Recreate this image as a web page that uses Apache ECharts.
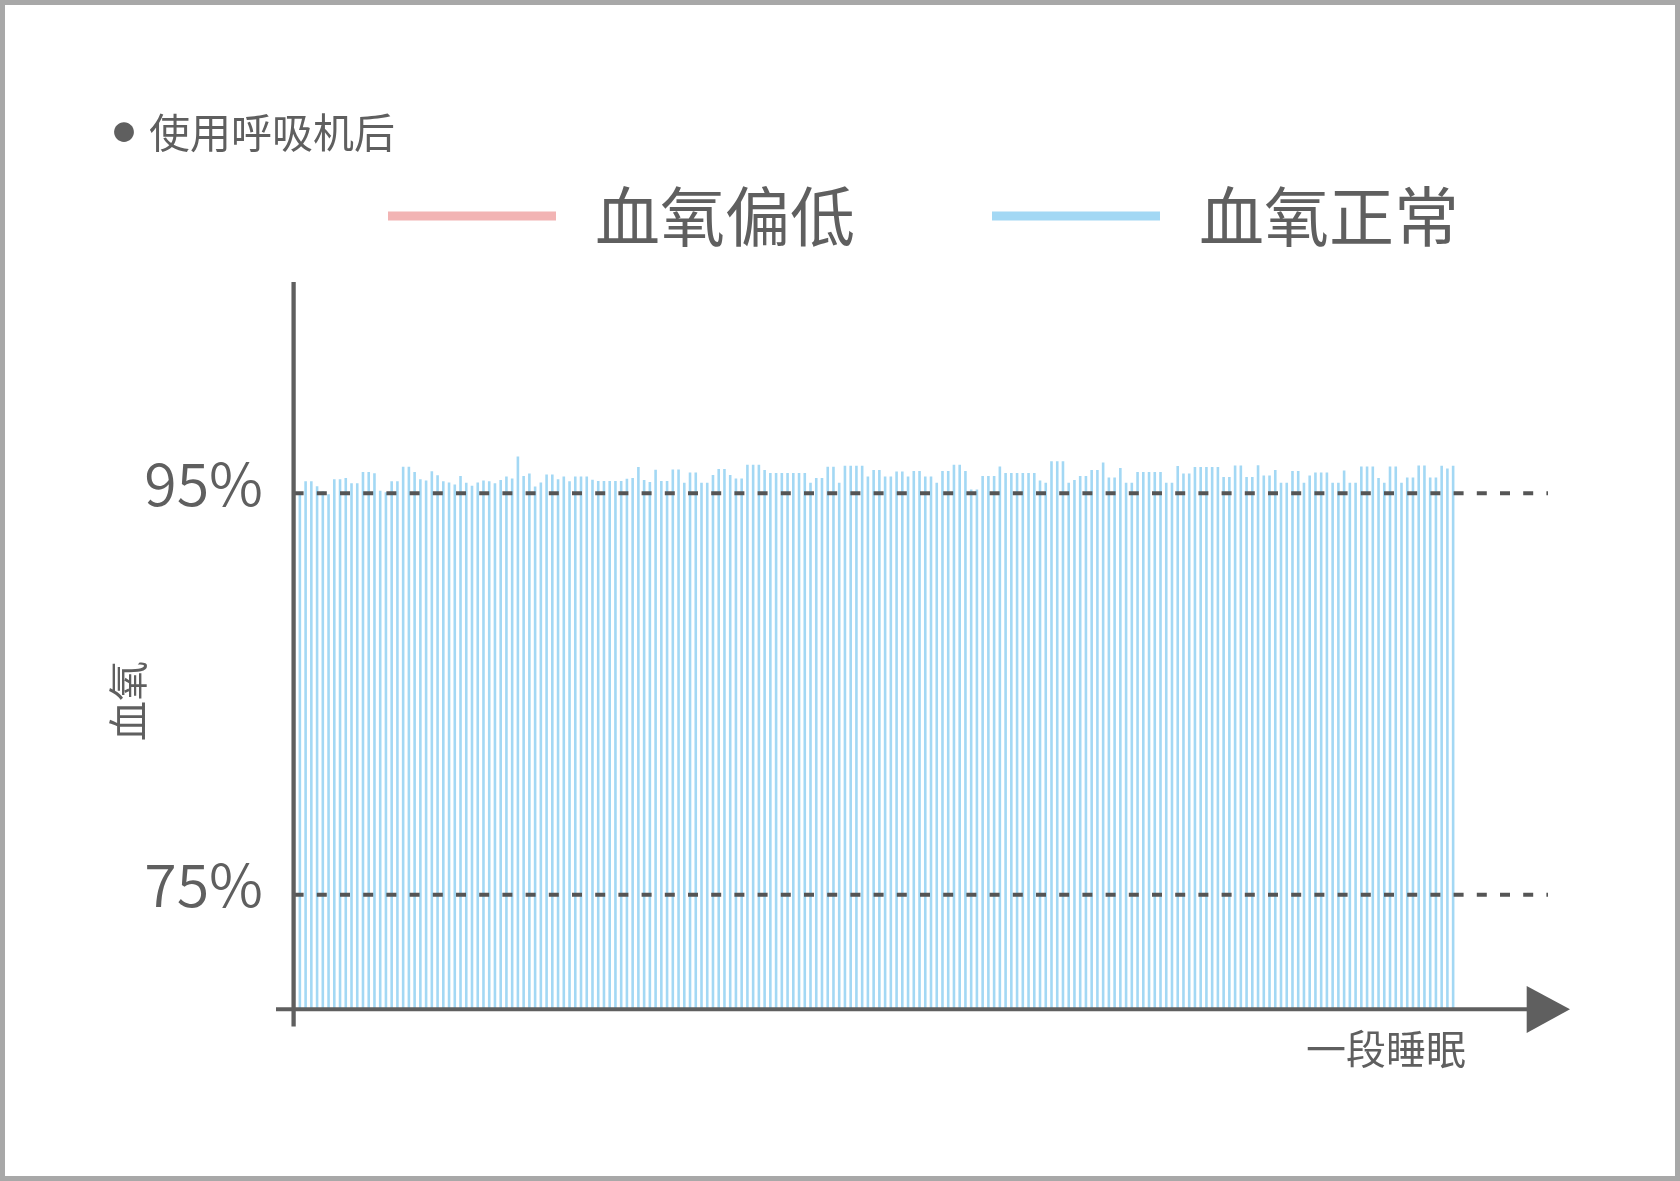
<!DOCTYPE html>
<html>
<head>
<meta charset="utf-8">
<script src="https://cdn.jsdelivr.net/npm/echarts@6/dist/echarts.min.js"></script>
<style>
html,body{margin:0;padding:0;background:#fff;}
#c{width:1680px;height:1181px;}
</style>
</head>
<body>
<div id="c"></div>
<script>
// ---------- data ----------
const categories = Array.from({ length: 202 }, (_, i) => String(i + 1));
const normalValues = [
  95.0, 95.6, 95.6, 95.35, 95.1, 94.95, 95.7, 95.7, 95.77, 95.5,
  95.5, 96.06, 96.06, 96.0, 95.13, 95.05, 95.6, 95.6, 96.32, 96.32,
  96.06, 95.7, 95.64, 96.1, 95.9, 95.6, 95.54, 95.44, 95.86, 95.53,
  95.38, 95.54, 95.64, 95.6, 95.5, 95.66, 95.84, 95.74, 96.84, 95.86,
  95.99, 95.34, 95.54, 95.94, 95.94, 95.7, 95.84, 95.6, 95.84, 95.84,
  95.84, 95.68, 95.61, 95.61, 95.61, 95.61, 95.61, 95.73, 95.76, 96.31,
  95.66, 95.56, 96.17, 95.61, 95.61, 96.19, 96.19, 95.53, 96.04, 96.04,
  95.53, 95.53, 95.91, 96.21, 96.21, 95.91, 95.74, 95.74, 96.42, 96.42,
  96.42, 96.16, 96.01, 96.01, 96.01, 96.01, 96.01, 96.01, 96.01, 95.53,
  95.76, 95.76, 96.32, 96.32, 95.53, 96.37, 96.37, 96.37, 96.37, 95.84,
  96.16, 96.16, 95.84, 95.84, 96.09, 96.09, 95.84, 96.11, 96.11, 95.84,
  95.84, 95.53, 96.11, 96.11, 96.42, 96.42, 96.11, 95.19, 95.19, 95.86,
  95.86, 95.86, 96.34, 96.01, 96.01, 96.01, 96.01, 96.01, 96.01, 95.64,
  95.53, 96.6, 96.6, 96.6, 95.53, 95.66, 95.87, 95.87, 96.16, 96.16,
  96.54, 95.79, 95.79, 96.26, 95.53, 95.53, 96.06, 96.06, 96.06, 96.06,
  96.06, 95.53, 95.53, 96.36, 95.99, 95.99, 96.31, 96.31, 96.31, 96.31,
  96.31, 95.81, 95.81, 96.39, 96.39, 95.81, 95.81, 96.4, 95.89, 95.89,
  96.16, 95.53, 95.53, 96.11, 96.11, 95.53, 95.89, 96.04, 96.04, 96.04,
  95.53, 95.53, 96.14, 95.53, 95.53, 96.34, 96.34, 96.34, 95.77, 95.53,
  96.34, 96.34, 95.53, 95.79, 95.79, 96.39, 96.39, 95.79, 95.79, 96.37,
  96.24, 96.37
];
const lowValues = [];
const yTickValues = [75, 95];
const guideValues = [95, 75];
const seriesNames = ['血氧偏低', '血氧正常'];
const titleText = '使用呼吸机后';
const xAxisName = '一段睡眠';
const yAxisName = '血氧';

// ---------- style ----------
const FONT = '"Noto Sans CJK SC", "Noto Sans", sans-serif';
const TEXT = '#5f5f5f';
const AXIS = '#5f5f5f';
const BLUE = '#a3d8f4';
const PINK = '#f2b4b4';
const GRID = { left: 297, right: 224, top: 393, bottom: 172 };

const chart = echarts.init(document.getElementById('c'), null, { renderer: 'canvas' });

const option = {
  backgroundColor: '#ffffff',
  animation: false,
  title: {
    text: '{dot|●}{t|' + titleText + '}',
    left: 113, top: 107, padding: 0,
    textStyle: {
      fontWeight: 'normal',
      rich: {
        dot: { fontSize: 22, color: TEXT, fontFamily: FONT, fontWeight: 'normal', lineHeight: 50, padding: [0, 14, 0, 0] },
        t: { fontSize: 41, color: TEXT, fontFamily: FONT, fontWeight: 'normal', lineHeight: 50 }
      }
    }
  },
  legend: {
    left: 388, top: 181, padding: 0,
    itemWidth: 168, itemHeight: 9, itemGap: 137,
    icon: 'rect',
    data: seriesNames,
    textStyle: { fontSize: 65, color: TEXT, fontFamily: FONT, lineHeight: 70, padding: [0, 0, 0, 34] }
  },
  grid: GRID,
  xAxis: {
    type: 'category',
    data: categories,
    boundaryGap: true,
    axisLine: { show: false },
    axisTick: { show: false },
    axisLabel: { show: false },
    splitLine: { show: false },
    name: xAxisName,
    nameLocation: 'end',
    nameGap: 10,
    nameMoveOverlap: false,
    nameTextStyle: { fontSize: 40, color: TEXT, fontFamily: FONT, align: 'right', verticalAlign: 'top', lineHeight: 40, padding: [20, 0, 0, 0] }
  },
  yAxis: {
    type: 'value',
    min: 69.31, max: 100,
    axisLine: { show: false },
    axisTick: { show: false },
    splitLine: { show: false },
    axisLabel: {
      customValues: yTickValues,
      formatter: '{n|{value}%}',
      margin: 34,
      rich: {
        n: { fontSize: 59, color: TEXT, fontFamily: FONT, fontWeight: 350, lineHeight: 64, padding: [0, 0, 20, 0] }
      }
    },
    name: yAxisName,
    nameLocation: 'middle',
    nameRotate: 90,
    nameGap: 149,
    nameMoveOverlap: false,
    nameTextStyle: { fontSize: 40, color: TEXT, fontFamily: FONT }
  },
  series: [
    {
      name: seriesNames[0], type: 'line', data: lowValues,
      itemStyle: { color: PINK }, lineStyle: { color: PINK }, showSymbol: false
    },
    {
      name: seriesNames[1], type: 'bar', data: normalValues,
      barWidth: 2.6,
      itemStyle: { color: BLUE }
    }
  ]
};

chart.setOption(option);

// decorations: axes with arrow, dashed guide lines, frame
const yAxisX = GRID.left - 3.4;
const xAxisY = 1181 - GRID.bottom + 0.3;
const graphics = [
  { type: 'rect', z: 100, shape: { x: 2.5, y: 2.5, width: 1675, height: 1176 },
    style: { fill: 'none', stroke: '#a8a8a8', lineWidth: 5 } }
];
guideValues.forEach(v => {
  const y = chart.convertToPixel({ yAxisIndex: 0 }, v);
  graphics.push({ type: 'line', z: 100, shape: { x1: yAxisX, y1: y, x2: 1548, y2: y },
    style: { stroke: '#555555', lineWidth: 4, lineDash: [10, 13.2] } });
});
graphics.push({ type: 'line', z: 101, shape: { x1: yAxisX, y1: 282, x2: yAxisX, y2: 1026.5 },
  style: { stroke: AXIS, lineWidth: 4.3 } });
graphics.push({ type: 'line', z: 101, shape: { x1: 276, y1: xAxisY, x2: 1530, y2: xAxisY },
  style: { stroke: AXIS, lineWidth: 4 } });
graphics.push({ type: 'polygon', z: 101, shape: { points: [[1526.7, 986], [1570, xAxisY], [1526.7, 1033]] },
  style: { fill: AXIS } });

chart.setOption({ graphic: graphics });
</script>
</body>
</html>
